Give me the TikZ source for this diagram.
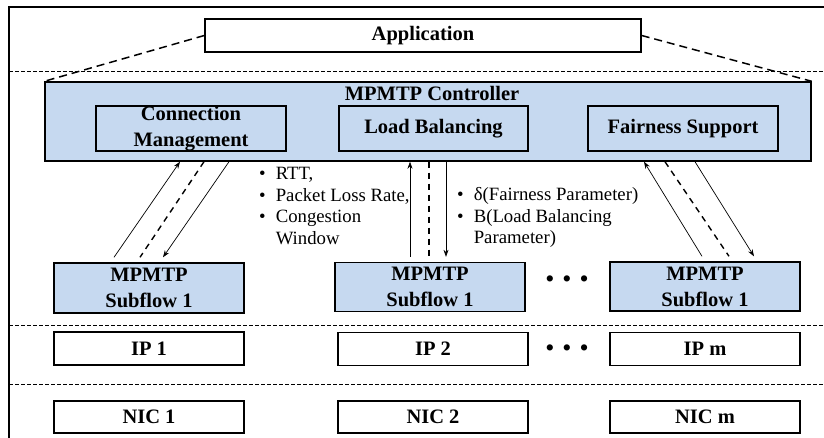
\documentclass[tikz,border=0pt]{standalone}
\usepackage{fontspec}
\setmainfont{Liberation Serif}
\usetikzlibrary{arrows.meta}

\definecolor{bleu}{RGB}{198,217,240}

\begin{document}
\begin{tikzpicture}[x=1pt,y=-1pt,>={Stealth[length=7pt,width=5pt]}]
    \newcommand\trio[8]{% fleches entre sous-flux et module
      \draw[ar,->] ([xshift=#3pt,yshift=5pt]#1.north) -- ([xshift=#4pt]#2.south |- ctrl.south);
      \draw[da] ([xshift=#5pt]#2.south |- ctrl.south) -- ([xshift=#6pt,yshift=5pt]#1.north);
      \draw[ar,->] ([xshift=#7pt]#2.south |- ctrl.south) -- ([xshift=#8pt,yshift=5pt]#1.north);}
    \tikzstyle{blk}=[draw,line width=1.4pt,inner sep=0pt,align=center,fill=white,
                     font=\fontsize{20.5}{26}\selectfont\bfseries]
    \tikzstyle{sub}=[blk,fill=bleu]
    \tikzstyle{sep}=[dash pattern=on 3.5pt off 2.5pt,line width=0.8pt]
    \tikzstyle{lnk}=[dash pattern=on 8pt off 5pt,line width=1.5pt]
    \tikzstyle{ar}=[line width=0.7pt]
    \tikzstyle{da}=[dash pattern=on 6pt off 5pt,line width=1.4pt]
    \tikzstyle{lst}=[anchor=north west,inner sep=0pt,font=\fontsize{18.75}{21.7}\selectfont]
    \tikzstyle{pts}=[inner sep=0pt,font=\fontsize{26}{26}\selectfont]
    \useasboundingbox (0,0) rectangle (824,437);
    \clip (0,0) rectangle (824,437);
    \draw[line width=1.6pt] (9,7) rectangle (840,460);
    \draw[sep] (9,71) -- (824,71) (9,325) -- (824,325) (9,384) -- (824,384);
    \node[blk,minimum width=436pt,minimum height=33pt] at (423,35.5) (app) {Application};
    \node[sub,minimum width=766pt,minimum height=79pt] at (428,121.5) (ctrl) {};
    \node[inner sep=0pt,font=\fontsize{20.5}{26}\selectfont\bfseries] at (432,93) (titre) {MPMTP Controller};
    \node[sub,minimum width=190pt,minimum height=45pt] at (191,128.5) (cm) {\raisebox{-2pt}{Connection}\\\raisebox{-2pt}{Management}};
    \node[sub,minimum width=189pt,minimum height=45pt] at (433.5,128.5) (lb) {Load Balancing};
    \node[sub,minimum width=190pt,minimum height=45pt] at (683,128.5) (fs) {Fairness Support};
    \node[sub,minimum width=190pt,minimum height=50pt] at (149,288) (sf1) {MPMTP\\Subflow 1};
    \node[sub,minimum width=190pt,minimum height=49pt] at (430,287) (sf2) {MPMTP\\Subflow 1};
    \node[sub,minimum width=190pt,minimum height=49pt] at (705,286.5) (sf3) {MPMTP\\Subflow 1};
    \node[blk,minimum width=190pt,minimum height=33pt] at (149,348.5) (ip1) {IP 1};
    \node[blk,minimum width=190pt,minimum height=33pt] at (433,349) (ip2) {IP 2};
    \node[blk,minimum width=190pt,minimum height=33pt] at (705,349) (ipm) {IP m};
    \node[blk,minimum width=190pt,minimum height=32pt] at (149,417) (nic1) {NIC 1};
    \node[blk,minimum width=190pt,minimum height=32pt] at (433,417) (nic2) {NIC 2};
    \node[blk,minimum width=190pt,minimum height=32pt] at (705,417) (nicm) {NIC m};
    \node[pts] at (567,282) (pts1) {\textbullet\hspace{8pt}\textbullet\hspace{8pt}\textbullet};
    \node[pts] at (567,351) (pts2) {\textbullet\hspace{8pt}\textbullet\hspace{8pt}\textbullet};
    \node[lst] at (259,164) (mes) {\begin{tabular}{@{}l@{\hspace{10pt}}l@{}}
        \textbullet & RTT,\\ \textbullet & Packet Loss Rate,\\
        \textbullet & Congestion\\ & Window\end{tabular}};
    \node[lst] at (457,185) (par) {\begin{tabular}{@{}l@{\hspace{10pt}}l@{}}
        \textbullet & δ(Fairness Parameter)\\ \textbullet & B(Load Balancing\\
        & Parameter)\end{tabular}};
    \draw[lnk] (app.west) -- (ctrl.north west) (app.east) -- (ctrl.north east);
    \trio{sf1}{cm}{-35}{-11}{13}{-9}{38}{14} % gauche
    \trio{sf2}{lb}{-20}{-23.5}{-4.5}{-1}{12.5}{16} % milieu
    \trio{sf3}{fs}{-3}{-39}{-18}{24}{12}{49} % droite
\end{tikzpicture}
\end{document}
